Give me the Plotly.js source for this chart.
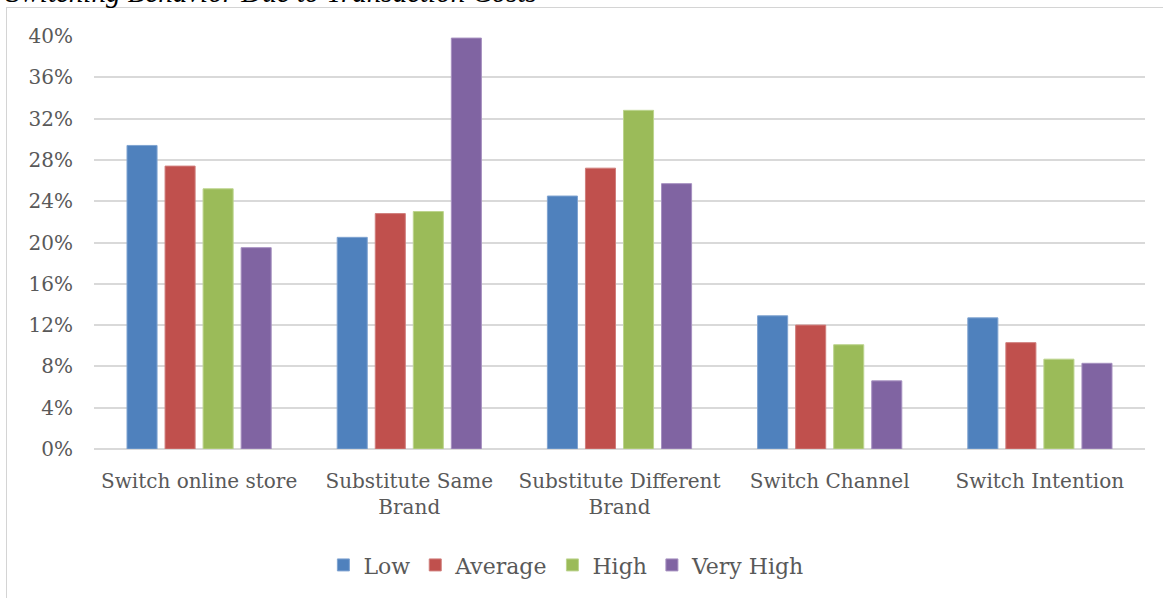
<!DOCTYPE html>
<html>
<head>
<meta charset="utf-8">
<script src="https://cdn.plot.ly/plotly-3.0.1.min.js"></script>
<style>
  html, body { margin: 0; padding: 0; background: #ffffff; overflow: hidden; }
  #frame {
    position: absolute; left: 6px; top: 7px; width: 1200px; height: 620px;
    border-left: 1px solid #d4d4d4; border-top: 1px solid #d4d4d4;
  }
  #chart { position: absolute; left: 0; top: 0; width: 1163px; height: 598px; }
</style>
</head>
<body>
<div id="frame"></div>
<div id="chart"></div>
<script>
// Share of respondents (%) showing each switching behaviour, by transaction-cost level
const categories = [
  'Switch online store',
  'Substitute Same<br>Brand',
  'Substitute Different<br>Brand',
  'Switch Channel',
  'Switch Intention'
];
const seriesNames = ['Low', 'Average', 'High', 'Very High'];
const lowValues      = [29.4, 20.5, 24.5, 12.9, 12.7];
const averageValues  = [27.4, 22.8, 27.2, 12.0, 10.3];
const highValues     = [25.2, 23.0, 32.8, 10.1,  8.7];
const veryHighValues = [19.5, 39.8, 25.7,  6.6,  8.3];
const yTickValues = [0, 4, 8, 12, 16, 20, 24, 28, 32, 36, 40];
const chartTitle = 'Switching Behavior Due to Transaction Costs';

const seriesValues = [lowValues, averageValues, highValues, veryHighValues];
const seriesColors = ['#4f81bd', '#c0504d', '#9bbb59', '#8064a2'];
const edgeColors   = ['#7fa3d1', '#d07e7c', '#bcd48e', '#a690c0'];

const traces = seriesNames.map((name, i) => ({
  type: 'bar',
  name: name,
  x: categories,
  y: seriesValues[i],
  marker: { color: seriesColors[i], line: { color: edgeColors[i], width: 1 } },
  hoverinfo: 'x+y+name'
}));

const textFont = { family: 'DejaVu Serif, serif', size: 20, color: '#595959' };

const layout = {
  width: 1163,
  height: 598,
  paper_bgcolor: 'rgba(0,0,0,0)',
  plot_bgcolor: 'rgba(0,0,0,0)',
  margin: { l: 94, r: 18, t: 36, b: 149 },
  // Caption running above the chart frame (only its lower part sits inside the page)
  annotations: [{
    text: '<i>' + chartTitle + '</i>',
    xref: 'paper', yref: 'paper',
    x: 0, y: 1,
    xanchor: 'left', yanchor: 'bottom',
    xshift: -90, yshift: 26,
    showarrow: false,
    font: { family: 'Liberation Serif, serif', size: 29, color: '#000000' }
  }],
  barmode: 'group',
  bargap: 0.276,
  bargroupgap: 0.21,
  showlegend: true,
  legend: {
    orientation: 'h',
    xref: 'container', yref: 'container',
    x: 0.487, xanchor: 'center',
    y: 0.055, yanchor: 'middle',
    font: { family: 'DejaVu Serif, serif', size: 22, color: '#595959' },
    itemwidth: 30,
    traceorder: 'normal'
  },
  xaxis: {
    type: 'category',
    tickfont: textFont,
    showgrid: false,
    showline: false,
    zeroline: false,
    ticks: '',
    ticklabelstandoff: 18,
    automargin: false
  },
  yaxis: {
    range: [0, 40],
    tickmode: 'array',
    tickvals: yTickValues,
    ticktext: yTickValues.map(v => v + '%'),
    tickfont: textFont,
    showgrid: true,
    gridcolor: '#d9d9d9',
    gridwidth: 2,
    zeroline: true,
    zerolinecolor: '#d9d9d9',
    zerolinewidth: 2,
    showline: false,
    ticks: '',
    ticklabelstandoff: 20,
    automargin: false
  }
};

Plotly.newPlot('chart', traces, layout, { displayModeBar: false });
</script>
</body>
</html>
